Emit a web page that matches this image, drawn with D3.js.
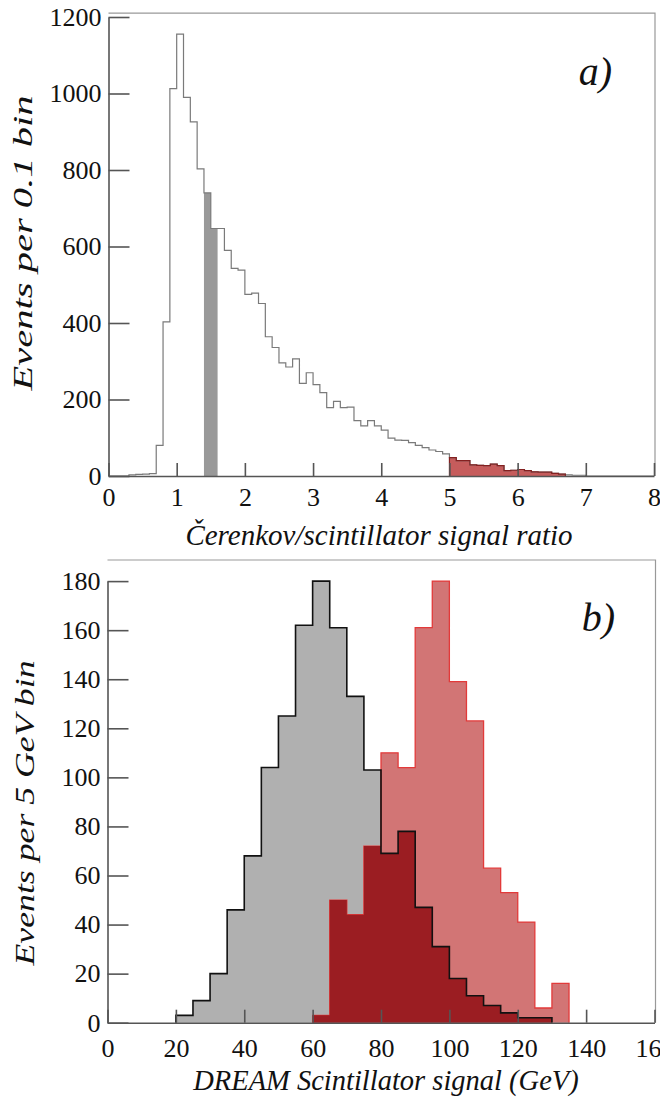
<!DOCTYPE html>
<html>
<head>
<meta charset="utf-8">
<script src="https://cdn.jsdelivr.net/npm/d3@7"></script>
<style>
  body { margin: 0; background: #fff; }
  svg { display: block; }
  text { font-family: "Liberation Serif", "Times New Roman", "DejaVu Serif", serif; fill: #111; }
</style>
</head>
<body>
<div id="container"></div>
<script>
// panel a) : Cerenkov / scintillator ratio, 0.1 wide bins from 0 to 8
const ratioBinWidth = 0.1;
const ratioCounts = [
  0, 0, 0, 3, 4, 5, 6, 80, 403, 1013,
  1155, 990, 926, 803, 740, 647, 647, 590, 543, 538,
  475, 478, 451, 364, 336, 296, 285, 306, 242, 270,
  239, 218, 179, 195, 179, 180, 145, 131, 145, 131,
  120, 99, 94, 93, 87, 80, 74, 68, 64, 58,
  48, 40, 40, 29, 28, 27, 31, 27, 14, 15,
  17, 14, 11, 10, 10, 7, 5, 3, 2, 2,
  0, 0, 0, 0, 0, 0, 0, 0, 0, 0
];
const grayBand = [1.4, 1.6];   // selected ratio range, grey
const redBand = [5.0, 6.7];    // selected ratio range, red

// panel b) : DREAM scintillator signal, 5 GeV bins
const signalBinWidth = 5;
const graySignalStart = 20;
const graySignal = [3, 9, 20, 46, 68, 104, 125, 162, 180, 161, 133, 103, 69, 78, 47, 31, 18, 11, 7, 4, 2, 2];
const redSignalStart = 60;
const redSignal = [3, 50, 44, 72, 110, 104, 161, 180, 139, 123, 63, 53, 41, 6, 16];

const ratioTicks = d3.range(0, 9, 1);
const countTicksA = d3.range(0, 1201, 200);
const signalTicks = d3.range(0, 161, 20);
const countTicksB = d3.range(0, 181, 20);

const W = 660, H = 1100;
const svg = d3.select("#container").append("svg").attr("width", W).attr("height", H);

const xA = d3.scaleLinear().domain([0, 8]).range([108.5, 654]);
const yA = d3.scaleLinear().domain([0, 1200]).range([476, 17]);
const xB = d3.scaleLinear().domain([0, 160]).range([107.5, 654.5]);
const yB = d3.scaleLinear().domain([0, 180]).range([1022.7, 581.1]);

// step outline, goes down to zero at both ends
function stepPoints(counts, start, w) {
  const pts = [[start, 0]];
  counts.forEach((v, i) => pts.push([start + i * w, v]));
  pts.push([start + counts.length * w, 0]);
  return pts;
}
function stepLine(x, y) {
  return d3.line().x(d => x(d[0])).y(d => y(d[1])).curve(d3.curveStepAfter);
}
function stepArea(x, y) {
  return d3.area().x(d => x(d[0])).y0(y(0)).y1(d => y(d[1])).curve(d3.curveStepAfter);
}
function sliceBins(lo, hi) {
  const i0 = Math.round(lo / ratioBinWidth), i1 = Math.round(hi / ratioBinWidth);
  return { start: i0 * ratioBinWidth, counts: ratioCounts.slice(i0, i1) };
}

function frame(g, x, y, xMax, yTop) {
  g.append("path")
    .attr("d", `M${x.range()[0]},${y(yTop)}H${x(xMax) + 1}V${y(0)}`)
    .attr("fill", "none").attr("stroke", "#999").attr("stroke-width", 1.2);
}

function axes(g, x, y, xMajor, xMinor, yMajor, yMinor, xPad) {
  const ax = g.append("g").attr("transform", `translate(0,${y(0)})`);
  ax.call(d3.axisBottom(x).tickValues(xMinor).tickSize(-6).tickSizeOuter(0).tickFormat(""));
  ax.call(d3.axisBottom(x).tickValues(xMajor).tickSize(-13).tickSizeOuter(0).tickPadding(xPad).tickFormat(d3.format("d")));
  const ay = g.append("g").attr("transform", `translate(${x.range()[0]},0)`);
  ay.call(d3.axisLeft(y).tickValues(yMinor).tickSize(-11).tickSizeOuter(0).tickFormat(""));
  ay.call(d3.axisLeft(y).tickValues(yMajor).tickSize(-21).tickSizeOuter(0).tickPadding(7).tickFormat(d3.format("d")));
  [ax, ay].forEach(a => {
    a.attr("font-family", null);
    a.selectAll("path.domain").attr("stroke", "#555").attr("stroke-width", 1.6);
    a.selectAll(".tick line").attr("stroke", "#555").attr("stroke-width", 1.6);
    a.selectAll(".tick text").style("font-size", "26px").attr("fill", "#111");
  });
}

function yTitle(g, cx, cy, label, len) {
  g.append("text").attr("transform", `translate(${cx},${cy}) rotate(-90)`)
    .attr("text-anchor", "middle")
    .attr("textLength", len).attr("lengthAdjust", "spacingAndGlyphs")
    .style("font-size", "28px").style("font-style", "italic").text(label);
}

// ---------- panel a ----------
const gA = svg.append("g");
frame(gA, xA, yA, 8, 1210);

const gBin = sliceBins(grayBand[0], grayBand[1]);
gA.append("path")
  .attr("d", stepArea(xA, yA)(stepPoints(gBin.counts, gBin.start, ratioBinWidth)))
  .attr("fill", "#999");

const rBin = sliceBins(redBand[0], redBand[1]);
gA.append("path")
  .attr("d", stepArea(xA, yA)(stepPoints(rBin.counts, rBin.start, ratioBinWidth)))
  .attr("fill", "#c65c5c");

gA.append("path")
  .attr("d", stepLine(xA, yA)(stepPoints(ratioCounts, 0, ratioBinWidth)))
  .attr("fill", "none").attr("stroke", "#7a7a7a").attr("stroke-width", 1.2);

gA.append("path")
  .attr("d", stepLine(xA, yA)(stepPoints(rBin.counts, rBin.start, ratioBinWidth)))
  .attr("fill", "none").attr("stroke", "#842020").attr("stroke-width", 1.2);

axes(gA, xA, yA, ratioTicks, d3.range(0, 8.01, 0.2), countTicksA, d3.range(0, 1201, 50), 12);

gA.append("text").attr("x", 612).attr("y", 85).attr("text-anchor", "end")
  .style("font-size", "40px").style("font-style", "italic").text("a)");

gA.append("text").attr("x", 379).attr("y", 545).attr("text-anchor", "middle")
  .style("font-size", "29px").style("font-style", "italic").text("Čerenkov/scintillator signal ratio");

yTitle(gA, 32, 243, "Events per 0.1 bin", 295);

// ---------- panel b ----------
const gB = svg.append("g");
frame(gB, xB, yB, 160, 188.6);

const grayPts = stepPoints(graySignal, graySignalStart, signalBinWidth);
const redPts = stepPoints(redSignal, redSignalStart, signalBinWidth);

// overlap of the two histograms, drawn darker
const overlap = redSignal.map((v, i) => {
  const gi = (redSignalStart - graySignalStart) / signalBinWidth + i;
  return Math.min(v, gi < graySignal.length ? graySignal[gi] : 0);
});

gB.append("path").attr("d", stepArea(xB, yB)(grayPts)).attr("fill", "#b0b0b0");
gB.append("path").attr("d", stepArea(xB, yB)(redPts)).attr("fill", "#d27575");
gB.append("path").attr("d", stepLine(xB, yB)(redPts))
  .attr("fill", "none").attr("stroke", "#e23a3a").attr("stroke-width", 1.3);
gB.append("path").attr("d", stepArea(xB, yB)(stepPoints(overlap, redSignalStart, signalBinWidth)))
  .attr("fill", "#9b1d22");
gB.append("path").attr("d", stepLine(xB, yB)(grayPts))
  .attr("fill", "none").attr("stroke", "#111").attr("stroke-width", 1.6);

axes(gB, xB, yB, signalTicks, d3.range(0, 161, 5), countTicksB, d3.range(0, 186, 5), 16);

gB.append("text").attr("x", 615).attr("y", 631).attr("text-anchor", "end")
  .style("font-size", "40px").style("font-style", "italic").text("b)");

gB.append("text").attr("x", 386).attr("y", 1090).attr("text-anchor", "middle")
  .style("font-size", "28.5px").style("font-style", "italic").text("DREAM Scintillator signal (GeV)");

yTitle(gB, 34, 813, "Events per 5 GeV bin", 305);
</script>
</body>
</html>
